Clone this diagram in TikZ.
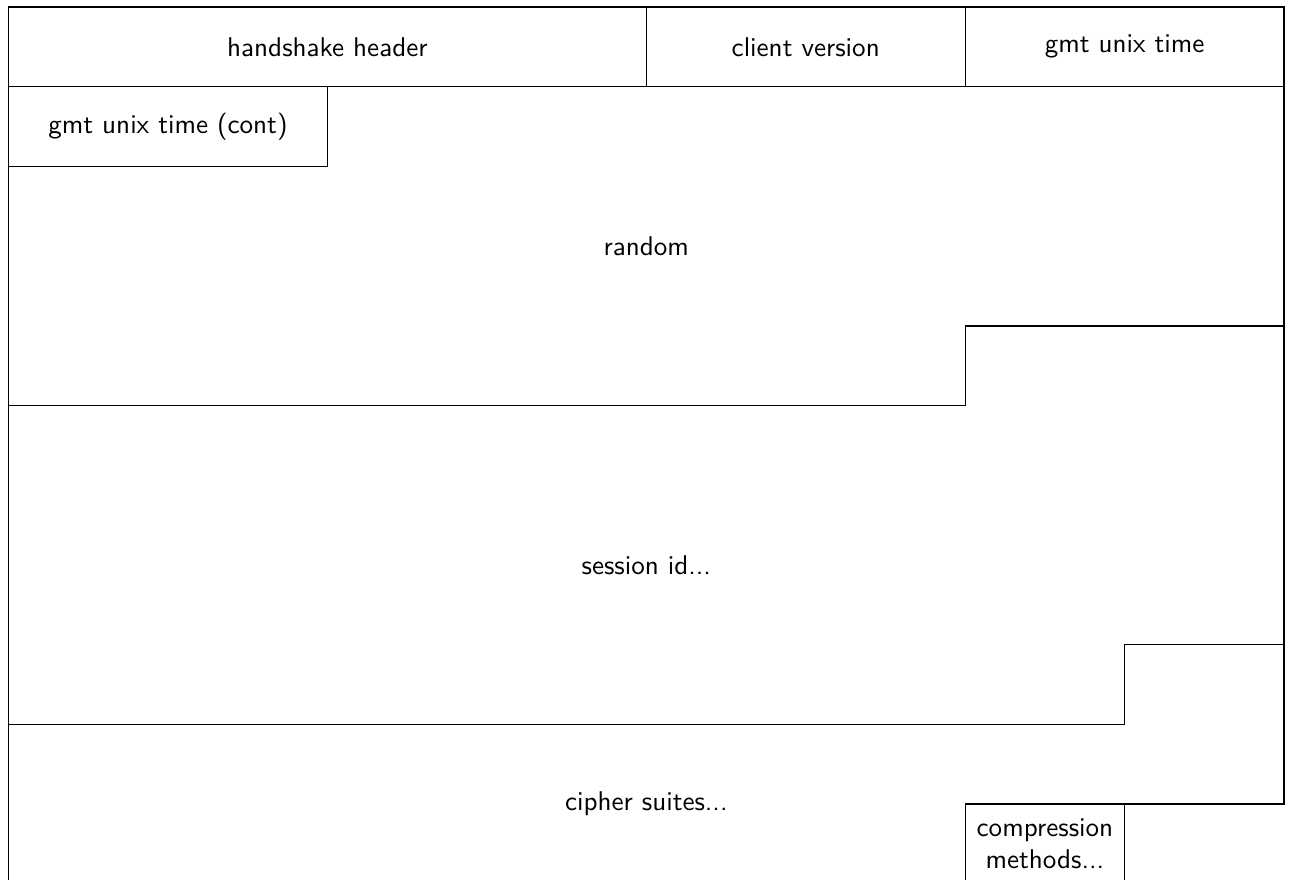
\documentclass[tikz,border=0pt]{standalone}
\begin{document}
\begin{tikzpicture}[font=\sffamily, line width=0.5pt,
  field/.style={inner sep=0pt, align=center}]
\useasboundingbox (0,0) rectangle (475.6pt,-324.4pt);
\clip (0,0) rectangle (475.6pt,-324.4pt);
% one unit = one column (4 bits) across, one row down
\begin{scope}[shift={(3.14pt,-2.58pt)}, x=58.83pt, y=-29.41pt]
  % outer frame, cut at the bottom
  \draw (0,11) -- (0,0) -- (8,0) -- (8,10) -- (6,10) -- (6,11);
  \draw (7,10) -- (7,11);
  % first row: header, version, start of time
  \draw (4,0) -- (4,1) (6,0) -- (6,1) (0,1) -- (8,1);
  % rest of the time field
  \draw (0,2) -- (2,2) -- (2,1);
  % end of the random field
  \draw (0,5) -- (6,5) -- (6,4) -- (8,4);
  % end of the session id
  \draw (0,9) -- (7,9) -- (7,8) -- (8,8);

  \node[field] (hdr)  at (2,0.5)   {handshake header};
  \node[field] (ver)  at (5,0.5)   {client version};
  \node[field] (gmt)  at (7,0.5)   {gmt unix time};
  \node[field] (gmtc) at (1,1.5)   {gmt unix time (cont)};
  \node[field] (rnd)  at (4,3)     {random};
  \node[field] (sid)  at (4,7)     {session id...};
  \node[field] (cs)   at (4,10)    {cipher suites...};
  \node[field] (cm)   at (6.5,10.5){compression\\methods...};
\end{scope}
\end{tikzpicture}
\end{document}
